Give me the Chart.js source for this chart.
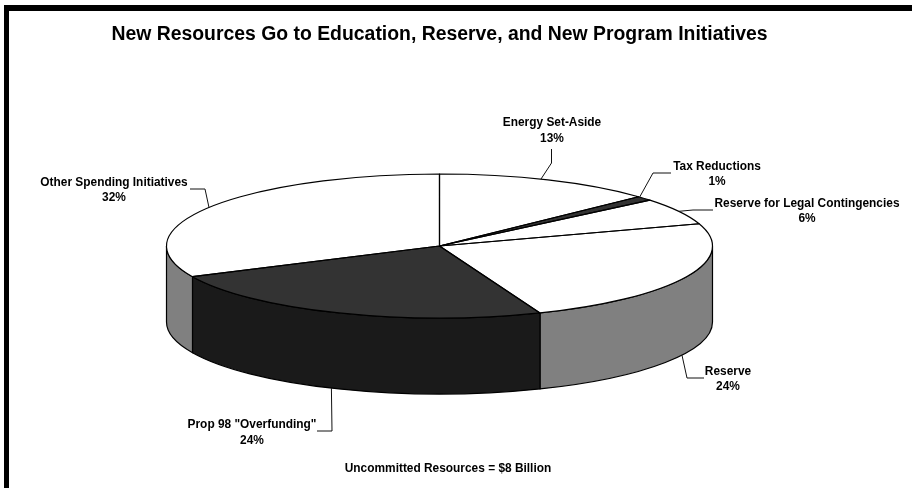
<!DOCTYPE html>
<html>
<head>
<meta charset="utf-8">
<style>
  html, body { margin: 0; padding: 0; background: #ffffff; }
  #frame { position: relative; width: 912px; height: 488px; overflow: hidden; background: #ffffff; }
  #frame::before { content: ""; position: absolute; left: 4px; top: 5px; right: 0; bottom: 0;
    border-left: 5px solid #000; border-top: 6px solid #000; }
  canvas { position: absolute; left: 0; top: 0; }
</style>
<script src="https://cdn.jsdelivr.net/npm/chart.js@4/dist/chart.umd.min.js"></script>
</head>
<body>
<div id="frame"><canvas id="pie" width="912" height="488"></canvas></div>
<script>
// Shares of new resources, in percent, clockwise from twelve o'clock.
const categories = ['Energy Set-Aside', 'Tax Reductions', 'Reserve for Legal Contingencies',
                    'Reserve', 'Prop 98 "Overfunding"', 'Other Spending Initiatives'];
const shares = [13, 1, 6, 24, 24, 32];
const faceColors = ['#ffffff', '#333333', '#ffffff', '#ffffff', '#333333', '#ffffff'];
const wallColors = ['#808080', '#1a1a1a', '#808080', '#808080', '#1a1a1a', '#808080'];

const chartTitle = 'New Resources Go to Education, Reserve, and New Program Initiatives';
const footnote = 'Uncommitted Resources = $8 Billion';

// The disc is a circular pie flattened into an ellipse with a wall beneath it.
const disc = { cx: 439.5, cy: 246, rx: 273, ry: 72, depth: 76 };

// Callout text centre, the two text line centres, where along the slice the
// leader meets the rim (0 to 1), and the elbow path from the rim to the text.
const callouts = [
  { x: 552, y: [123, 139], along: 0.466, elbow: [[551.5, 163], [551.5, 149]] },
  { x: 717, y: [167, 182], along: 0.1, elbow: [[653, 173], [671, 173]] },
  { x: 807, y: [204, 219], along: 0.5, elbow: [[693, 210], [713, 210]] },
  { x: 728, y: [372, 387], along: 0.525, elbow: [[687, 378], [704, 378]] },
  { x: 252, y: [425, 441], along: 0.52, elbow: [[332, 431], [317, 431]] },
  { x: 114, y: [183, 198], along: 0.5, elbow: [[205, 189], [190, 189]] }
];

const TWO_PI = Math.PI * 2;
function norm(a) { a %= TWO_PI; return a < 0 ? a + TWO_PI : a; }

const tiltedDisc = {
  id: 'tiltedDisc',
  // Walls of the front half of the rim, drawn under the faces.
  beforeDatasetsDraw(chart) {
    const { ctx } = chart;
    const { cx, cy, rx, ry, depth } = disc;
    chart.getDatasetMeta(0).data.forEach((arc, i) => {
      const start = arc.startAngle;
      const end = arc.endAngle;
      // Look at the sweep in both the current turn and the next one.
      [0, TWO_PI, -TWO_PI].forEach(shift => {
        const a0 = Math.max(start + shift, 0);
        const a1 = Math.min(end + shift, Math.PI);
        if (a1 <= a0) return;
        ctx.save();
        ctx.beginPath();
        ctx.ellipse(cx, cy, rx, ry, 0, a0, a1, false);
        ctx.ellipse(cx, cy + depth, rx, ry, 0, a1, a0, true);
        ctx.closePath();
        ctx.fillStyle = wallColors[i];
        ctx.fill();
        ctx.lineWidth = 1.2;
        ctx.strokeStyle = '#000';
        ctx.lineJoin = 'round';
        ctx.stroke();
        ctx.restore();
      });
    });
    // The library paints its round arcs through this squash.
    const first = chart.getDatasetMeta(0).data[0];
    const r = first.outerRadius;
    ctx.save();
    ctx.translate(cx, cy);
    ctx.scale(rx / r, ry / r);
    ctx.translate(-first.x, -first.y);
  },
  afterDatasetsDraw(chart) {
    const { ctx } = chart;
    ctx.restore();
    const { cx, cy, rx, ry, depth } = disc;
    ctx.save();
    ctx.strokeStyle = '#000';
    ctx.lineWidth = 1.2;
    ctx.lineJoin = 'round';
    const meta = chart.getDatasetMeta(0).data;
    meta.forEach(arc => {
      ctx.beginPath();
      ctx.moveTo(cx, cy);
      ctx.ellipse(cx, cy, rx, ry, 0, arc.startAngle, arc.endAngle, false);
      ctx.closePath();
      ctx.stroke();
    });

    // Leader lines run from a point on the visible rim of each slice.
    ctx.lineWidth = 1;
    ctx.strokeStyle = '#111';
    meta.forEach((arc, i) => {
      const c = callouts[i];
      const at = norm(arc.startAngle + (arc.endAngle - arc.startAngle) * c.along);
      const onFront = at > 0 && at < Math.PI;
      const px = cx + rx * Math.cos(at);
      const py = cy + ry * Math.sin(at) + (onFront ? depth : 0);
      ctx.beginPath();
      ctx.moveTo(px, py);
      c.elbow.forEach(p => ctx.lineTo(p[0], p[1]));
      ctx.stroke();
    });

    // Callout text: name above percentage.
    ctx.fillStyle = '#000';
    ctx.font = 'bold 11.9px "Liberation Sans", Arial, sans-serif';
    ctx.textAlign = 'center';
    ctx.textBaseline = 'middle';
    const total = shares.reduce((a, b) => a + b, 0);
    categories.forEach((name, i) => {
      const c = callouts[i];
      ctx.fillText(name, c.x, c.y[0]);
      ctx.fillText(Math.round(shares[i] / total * 100) + '%', c.x, c.y[1]);
    });
    ctx.fillText(footnote, 448, 469);
    ctx.restore();
  }
};

new Chart(document.getElementById('pie'), {
  type: 'pie',
  data: {
    labels: categories,
    datasets: [{
      data: shares,
      backgroundColor: faceColors,
      borderWidth: 0
    }]
  },
  options: {
    responsive: false,
    animation: false,
    events: [],
    layout: { padding: { right: 33 } },
    plugins: {
      legend: { display: false },
      tooltip: { enabled: false },
      title: {
        display: true,
        text: chartTitle,
        color: '#000',
        font: { family: '"Liberation Sans", Arial, sans-serif', size: 19.4, weight: 'bold' },
        padding: { top: 23, bottom: 10 }
      }
    }
  },
  plugins: [tiltedDisc]
});
</script>
</body>
</html>
